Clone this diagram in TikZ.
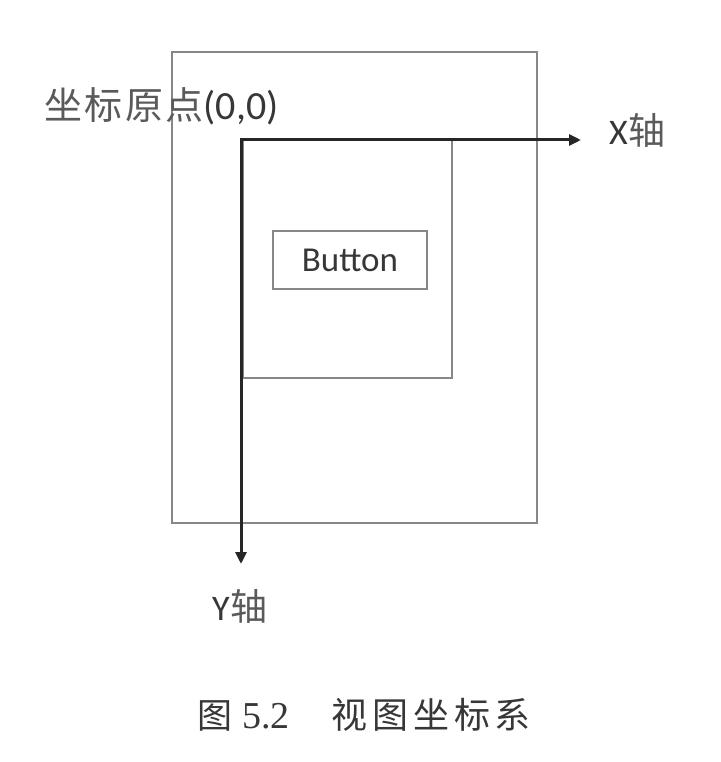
\documentclass[tikz,border=0pt]{standalone}
\usepackage{fontspec}
\setmainfont{Liberation Serif}
\newfontfamily\cjk{Noto Sans CJK SC}
\newfontfamily\lat{Carlito}
\usetikzlibrary{arrows.meta}
\definecolor{boxgray}{RGB}{135,135,135}
\definecolor{txtgray}{RGB}{55,55,55}
\definecolor{cjkgray}{RGB}{90,90,90}
\tikzset{
  framebox/.style={draw=boxgray, line width=1.4pt, inner sep=0pt, rectangle},
  axisline/.style={draw=black!85, line width=3pt, -{Triangle[length=12pt,width=11pt]}},
  labeltext/.style={inner sep=0pt, text=txtgray, anchor=base west},
}
\begin{document}
\begin{tikzpicture}[x=1pt,y=-1pt]
\useasboundingbox (0,0) rectangle (720,762);
% outer view
\node[framebox, minimum width=365pt, minimum height=471pt] (outer) at (354.5,287.5) {};
% inner view
\node[framebox, minimum width=209pt, minimum height=238pt] (inner) at (347.5,259) {};
% button
\node[framebox, minimum width=154pt, minimum height=58pt, text=txtgray,
      font=\lat\fontsize{35}{40}\selectfont] (button) at (350,260) {Button};
% axes
\coordinate (origin) at (241,140);
\coordinate (xend) at (581,140);
\coordinate (yend) at (241,564);
\draw[axisline] ([xshift=-1.5pt]origin) -- (xend);
\draw[axisline] (origin) -- (yend);
% labels
\node[labeltext] (originlabel) at (44,120)
  {{\cjk\fontsize{38}{40}\selectfont\color{cjkgray}坐\kern2.5pt 标\kern2.5pt 原\kern2.5pt 点}{\lat\fontsize{40}{44}\selectfont (0,0)}};
\node[labeltext] (xlabel) at (609,145)
  {{\lat\fontsize{36}{40}\selectfont X}\kern1pt{\cjk\fontsize{37}{40}\selectfont\color{cjkgray}轴}};
\node[labeltext] (ylabel) at (212,620)
  {{\lat\fontsize{36}{40}\selectfont Y}\kern1pt{\cjk\fontsize{37}{40}\selectfont\color{cjkgray}轴}};
% caption
\node[labeltext] (caption) at (197,728)
  {{\cjk\fontsize{35}{40}\selectfont 图}\kern10pt{\fontsize{38}{40}\selectfont 5.2}\kern42pt{\cjk\fontsize{36}{40}\selectfont 视\kern4.8pt 图\kern4.8pt 坐\kern4.8pt 标\kern4.8pt 系}};
\end{tikzpicture}
\end{document}
